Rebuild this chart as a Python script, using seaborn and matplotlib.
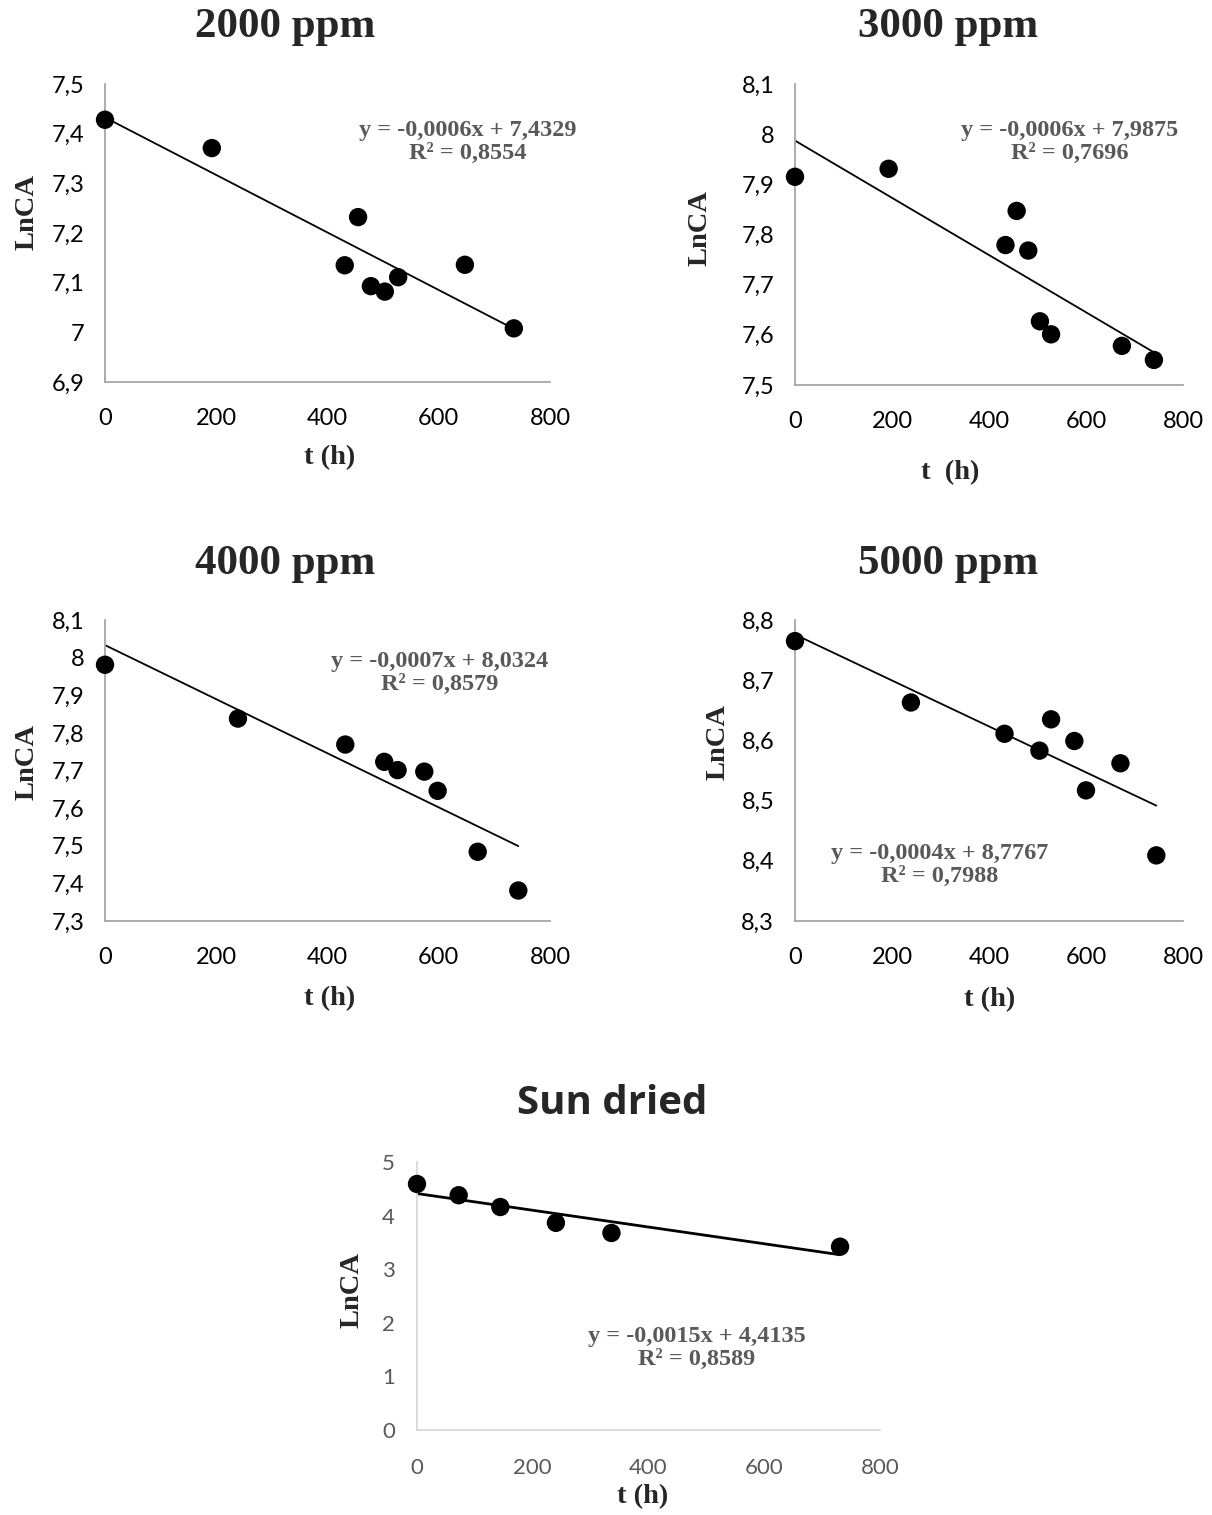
import matplotlib
matplotlib.use("Agg")
import matplotlib.pyplot as plt
import seaborn as sns
from matplotlib.ticker import FuncFormatter, MultipleLocator

# --- data ------------------------------------------------------------------
titles = ["2000 ppm", "3000 ppm", "4000 ppm", "5000 ppm", "Sun dried"]

t_2000 = [0, 192, 431, 455, 478, 503, 527, 647, 735]
ln_2000 = [7.428, 7.371, 7.135, 7.232, 7.093, 7.082, 7.111, 7.136, 7.008]

t_3000 = [0, 193, 434, 457, 481, 505, 528, 674, 740]
ln_3000 = [7.915, 7.931, 7.779, 7.847, 7.768, 7.627, 7.601, 7.578, 7.550]

t_4000 = [0, 239, 432, 502, 526, 574, 598, 670, 743]
ln_4000 = [7.981, 7.838, 7.769, 7.723, 7.701, 7.697, 7.646, 7.484, 7.381]

t_5000 = [0, 239, 432, 504, 528, 576, 600, 671, 745]
ln_5000 = [8.765, 8.663, 8.611, 8.583, 8.635, 8.599, 8.517, 8.562, 8.409]

t_sun = [0, 72, 144, 240, 336, 731]
ln_sun = [4.59, 4.38, 4.16, 3.865, 3.676, 3.42]

equations = [
    "y = -0,0006x + 7,4329\nR² = 0,8554",
    "y = -0,0006x + 7,9875\nR² = 0,7696",
    "y = -0,0007x + 8,0324\nR² = 0,8579",
    "y = -0,0004x + 8,7767\nR² = 0,7988",
    "y = -0,0015x + 4,4135\nR² = 0,8589",
]
y_limits = [(6.9, 7.5), (7.5, 8.1), (7.3, 8.1), (8.3, 8.8), (0, 5)]
y_steps = [0.1, 0.1, 0.1, 0.1, 1]
x_labels = ["t (h)", "t  (h)", "t (h)", "t (h)", "t (h)"]

# --- layout (pixels in a 1212 x 1515 canvas) --------------------------------
W, H = 1212, 1515
# axes boxes: left, top, right, bottom
boxes = [(105, 84, 550, 382), (795, 84, 1183, 385),
         (105, 620, 550, 921), (795, 620, 1183, 921),
         (417, 1162, 880, 1430)]
title_xy = [(285, 27), (948, 27), (285, 564), (948, 564), (612, 1104)]
xlabel_xy = [(330, 458), (950, 473), (330, 999), (990, 1000), (643, 1497)]
ylabel_xy = [(27, 212), (700, 228), (27, 762), (718, 742), (352, 1290)]
eq_xy = [(468, 142), (1070, 142), (440, 673), (940, 865), (697, 1348)]

sns.set_style("white")
plt.rcParams["font.family"] = ["Liberation Serif", "DejaVu Sans"]

fig = plt.figure(figsize=(W / 100, H / 100), dpi=100)


def fx(px):
    return px / W


def fy(py):
    return 1 - py / H


def comma_fmt(v, pos):
    return f"{v:g}".replace(".", ",")


series = [(t_2000, ln_2000), (t_3000, ln_3000), (t_4000, ln_4000),
          (t_5000, ln_5000), (t_sun, ln_sun)]

for i, (t, ln) in enumerate(series):
    l, tp, r, b = boxes[i]
    ax = fig.add_axes([fx(l), fy(b), (r - l) / W, (b - tp) / H])
    sun = i == 4
    sns.regplot(x=t, y=ln, ci=None, truncate=True, ax=ax,
                scatter_kws=dict(s=175, color="black", alpha=1,
                                 edgecolor="none", zorder=3, clip_on=False),
                line_kws=dict(color="black", lw=2.0 if sun else 1.3))
    ax.set_xlim(0, 800)
    ax.set_ylim(*y_limits[i])
    ax.xaxis.set_major_locator(MultipleLocator(200))
    ax.yaxis.set_major_locator(MultipleLocator(y_steps[i]))
    ax.yaxis.set_major_formatter(FuncFormatter(comma_fmt))
    ax.set_xlabel("")
    ax.set_ylabel("")
    for side in ["top", "right"]:
        ax.spines[side].set_visible(False)
    spine_col = "#d9d9d9" if sun else "#a6a6a6"
    for side in ["left", "bottom"]:
        ax.spines[side].set_color(spine_col)
        ax.spines[side].set_linewidth(1.3)
    ax.tick_params(axis="both", direction="out", length=0 if sun else 6,
                   width=1.2, color=spine_col, pad=16 if sun else 9,
                   labelsize=16 if sun else 17,
                   labelcolor="#595959" if sun else "black")
    ax.tick_params(axis="x", pad=20 if sun else 13)
    for lab in ax.get_xticklabels() + ax.get_yticklabels():
        lab.set_family(["Lato", "DejaVu Sans"])

    fig.text(fx(title_xy[i][0]), fy(title_xy[i][1]), titles[i],
             ha="center", va="center", fontsize=29 if sun else 31,
             fontweight="bold",
             family=["Open Sans", "DejaVu Sans"] if sun else ["Liberation Serif"])
    fig.text(fx(xlabel_xy[i][0]), fy(xlabel_xy[i][1]), x_labels[i],
             ha="center", va="center", fontsize=20.5, fontweight="bold")
    fig.text(fx(ylabel_xy[i][0]), fy(ylabel_xy[i][1]), "LnCA",
             ha="center", va="center", fontsize=20.5, fontweight="bold",
             rotation=90)
    fig.text(fx(eq_xy[i][0]), fy(eq_xy[i][1]), equations[i],
             ha="center", va="center", fontsize=17.5, fontweight="bold",
             color="#595959", linespacing=1.1)

fig.savefig("out.png", dpi=100)
